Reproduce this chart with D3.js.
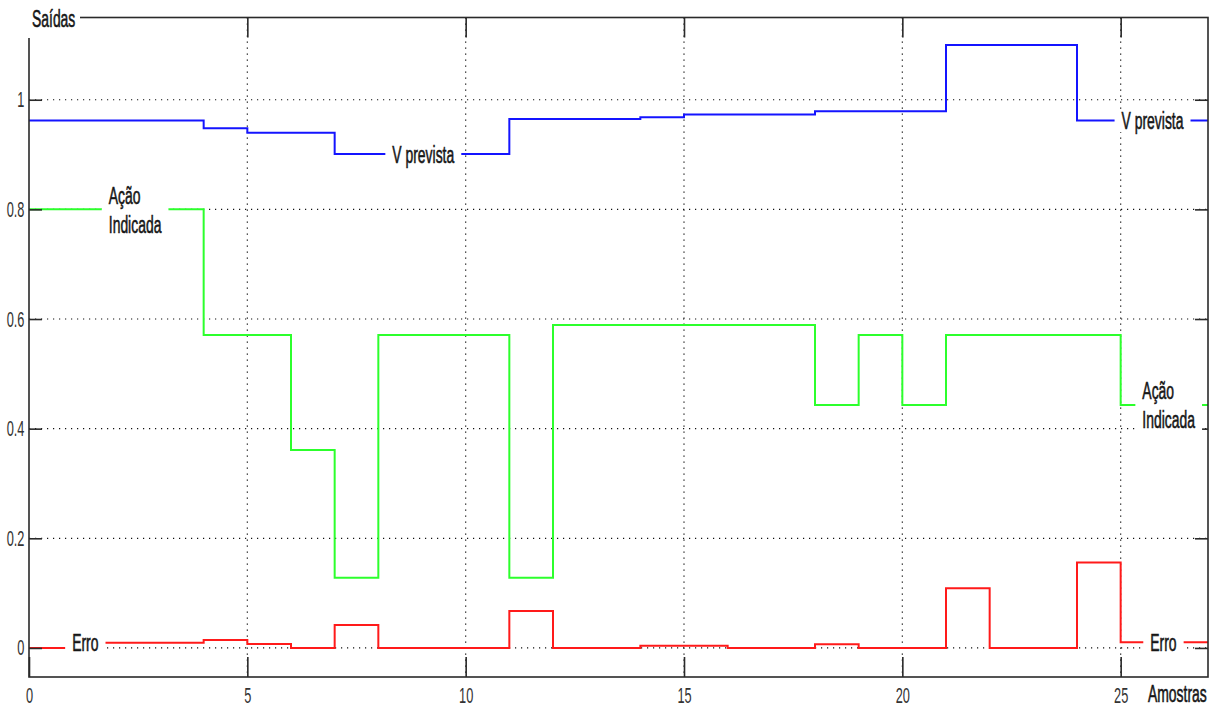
<!DOCTYPE html>
<html>
<head>
<meta charset="utf-8">
<script src="https://cdn.jsdelivr.net/npm/d3@7"></script>
<style>
  body { margin: 0; background: #fff; }
  svg { display: block; }
  text { font-family: "Liberation Sans", Arial, sans-serif; }
</style>
</head>
<body>
<div class="chart"></div>
<script>
// samples 0..26, each value held until next sample
const vPrevista = [0.962, 0.962, 0.962, 0.962, 0.948, 0.940, 0.940, 0.901, 0.901, 0.901, 0.901,
    0.965, 0.965, 0.965, 0.968, 0.973, 0.973, 0.973, 0.979, 0.979, 0.979, 1.10, 1.10, 1.10,
    0.962, 0.962, 0.962];
const acaoIndicada = [0.80, 0.80, 0.80, 0.80, 0.571, 0.571, 0.361, 0.128, 0.571, 0.571, 0.571,
    0.128, 0.589, 0.589, 0.589, 0.589, 0.589, 0.589, 0.443, 0.571, 0.443, 0.571, 0.571, 0.571,
    0.571, 0.443, 0.443];
const erro = [0, 0.0097, 0.0097, 0.0097, 0.0146, 0.0073, 0, 0.042, 0, 0, 0, 0.0675, 0, 0,
    0.0042, 0.0042, 0, 0, 0.0067, 0, 0, 0.109, 0, 0, 0.156, 0.0104, 0.0104];

const xTicks = [0, 5, 10, 15, 20, 25];
const yTicks = [0, 0.2, 0.4, 0.6, 0.8, 1];

const series = [
    { name: "acao", values: acaoIndicada, color: "#2cff2c" },
    { name: "v", values: vPrevista, color: "#1414ff" },
    { name: "erro", values: erro, color: "#ff1a1a" }
];

// inline labels: series, text lines, x position (in samples)
const lineLabels = [
    { series: "v", lines: ["V prevista"], at: 9.03 },
    { series: "v", lines: ["V prevista"], at: 25.73 },
    { series: "acao", lines: ["Ação", "Indicada"], at: 2.43 },
    { series: "acao", lines: ["Ação", "Indicada"], at: 26.1 },
    { series: "erro", lines: ["Erro"], at: 1.29 },
    { series: "erro", lines: ["Erro"], at: 25.98 }
];

var width = 1216, height = 707
    , plotLeft = 29, plotRight = 1208, plotTop = 17.5, plotBottom = 677
    , squeeze = 0.58;

var x = d3.scaleLinear().domain([0, 27]).range([plotLeft, plotRight]);
var y = d3.scaleLinear().domain([-0.053, 1.15]).range([plotBottom, plotTop]);

var svg = d3.select(".chart").append("svg")
    .attr("width", width)
    .attr("height", height);

// grid
const grid = svg.append("g")
    .attr("stroke", "#111")
    .attr("stroke-width", 1.2)
    .attr("stroke-dasharray", "1.2,4.8");
grid.selectAll(".gx")
    .data(xTicks.filter(d => d > 0))
    .enter().append("line")
    .attr("x1", d => x(d)).attr("x2", d => x(d))
    .attr("y1", plotTop).attr("y2", plotBottom);
grid.selectAll(".gy")
    .data(yTicks)
    .enter().append("line")
    .attr("y1", d => y(d)).attr("y2", d => y(d))
    .attr("x1", plotLeft).attr("x2", plotRight);

// step lines
var line = d3.line()
    .x(d => x(d[0]))
    .y(d => y(d[1]))
    .curve(d3.curveStepAfter);

svg.append("g").selectAll("path")
    .data(series)
    .enter().append("path")
    .attr("fill", "none")
    .attr("stroke", d => d.color)
    .attr("stroke-width", 2)
    .attr("d", d => {
        let pts = d.values.map((v, i) => [i, v]);
        pts.push([d.values.length, d.values[d.values.length - 1]]);
        return line(pts);
    });

// axes
const axisColor = "#2a2a2a";
const fmt = d3.format("~g");

const gx = svg.append("g")
    .attr("transform", `translate(0,${plotBottom})`)
    .call(d3.axisBottom(x).tickValues(xTicks).tickFormat(fmt)
        .tickSizeInner(-20).tickSizeOuter(0).tickPadding(10));
const gxTop = svg.append("g")
    .attr("transform", `translate(0,${plotTop})`)
    .call(d3.axisTop(x).tickValues(xTicks).tickFormat("")
        .tickSizeInner(-20).tickSizeOuter(0));
const gy = svg.append("g")
    .attr("transform", `translate(${plotLeft},0)`)
    .call(d3.axisLeft(y).tickValues(yTicks).tickFormat(fmt)
        .tickSizeInner(-13).tickSizeOuter(0).tickPadding(8));
const gyRight = svg.append("g")
    .attr("transform", `translate(${plotRight},0)`)
    .call(d3.axisRight(y).tickValues(yTicks).tickFormat("")
        .tickSizeInner(-13).tickSizeOuter(0));

[gx, gxTop, gy, gyRight].forEach(g => {
    g.select(".domain").remove();
    g.selectAll(".tick line").attr("stroke", axisColor).attr("stroke-width", 1.6);
    g.selectAll(".tick text")
        .attr("fill", "#333")
        .style("font-size", "22px")
        .attr("transform", `scale(${squeeze},1)`);
});

// frame
svg.append("rect")
    .attr("x", plotLeft).attr("y", plotTop)
    .attr("width", plotRight - plotLeft).attr("height", plotBottom - plotTop)
    .attr("fill", "none")
    .attr("stroke", axisColor)
    .attr("stroke-width", 1.6);

// inline labels with white background
lineLabels.forEach(lb => {
    const s = series.find(d => d.name === lb.series);
    const cx = x(lb.at), cy = y(s.values[Math.floor(lb.at)]);
    const g = svg.append("g").attr("transform", `translate(${cx},${cy})`);
    const bg = g.append("rect").attr("fill", "#fff");
    const t = g.append("text")
        .attr("fill", "#161616")
        .attr("stroke", "#161616")
        .attr("stroke-width", 0.6)
        .style("font-size", "24px")
        .attr("transform", `scale(${squeeze},1)`);
    const lh = 29;
    const off = -(lb.lines.length - 1) * lh / 2;
    t.selectAll("tspan")
        .data(lb.lines)
        .enter().append("tspan")
        .attr("x", 0)
        .attr("y", (d, i) => off + i * lh)
        .attr("dy", "0.36em")
        .text(d => d);
    const b = t.node().getBBox();
    const w = b.width * squeeze;
    t.attr("transform", `translate(${-w / 2},0) scale(${squeeze},1)`);
    bg.attr("x", -w / 2 - 7).attr("width", w + 14)
        .attr("y", b.y + 2).attr("height", b.height - 4);
});

// axis titles
const saidas = svg.append("g").attr("transform", "translate(32,18)");
saidas.append("rect").attr("x", -40).attr("y", -30).attr("width", 88).attr("height", 50).attr("fill", "#fff");
saidas.append("text")
    .attr("fill", "#161616")
    .attr("stroke", "#161616")
    .attr("stroke-width", 0.6)
    .style("font-size", "24px")
    .attr("dy", "0.36em")
    .attr("transform", `scale(${squeeze},1)`)
    .text("Saídas");

svg.append("text")
    .attr("fill", "#161616")
    .attr("stroke", "#161616")
    .attr("stroke-width", 0.6)
    .style("font-size", "24px")
    .attr("dy", "0.36em")
    .attr("transform", `translate(1148,693) scale(${squeeze},1)`)
    .text("Amostras");
</script>
</body>
</html>
